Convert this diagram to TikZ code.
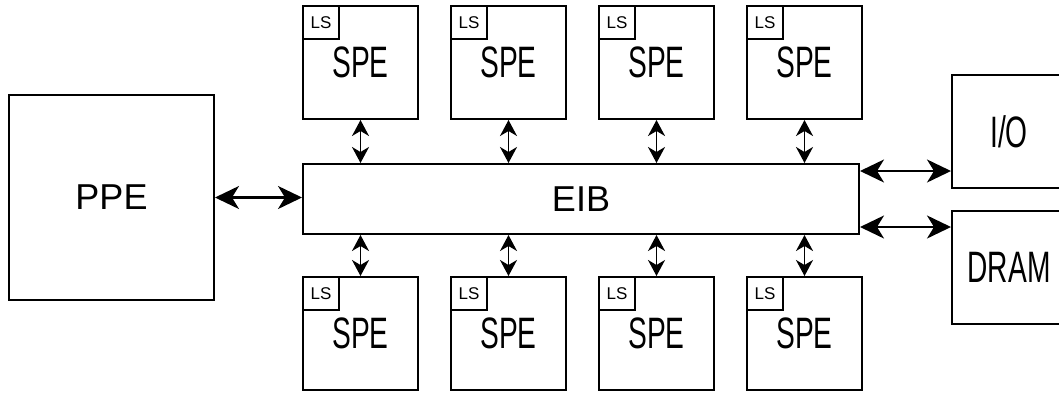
\documentclass[tikz,border=0pt]{standalone}
\usepackage{fontspec}
\setmainfont{Liberation Sans}
\usetikzlibrary{arrows.meta, positioning, calc}

\tikzset{
    blk/.style={draw, line width=2pt, inner sep=0pt, fill=white},
    narrow/.style={font=\fontsize{44}{46}\selectfont},
    link/.style={line width=1.8pt, {Stealth[length=16pt,width=17pt,inset=5pt]}-{Stealth[length=16pt,width=17pt,inset=5pt]}},
    biglink/.style={line width=2.2pt, {Stealth[length=24pt,width=23pt,inset=7pt]}-{Stealth[length=24pt,width=23pt,inset=7pt]}}
}

\begin{document}
\begin{tikzpicture}[x=1pt, y=-1pt]
\useasboundingbox (0,0) rectangle (1059,392);

% PPE and EIB bus
\node[blk, minimum width=205pt, minimum height=205pt, font=\fontsize{36}{38}\selectfont] (ppe) at (111.5,197.5) {PPE};
\node[blk, minimum width=556pt, minimum height=70pt, font=\fontsize{36}{38}\selectfont] (eib) at (581,199) {EIB};

% SPEs above and below the bus
\foreach \i in {0,...,3} {
    \node[blk, minimum width=115pt, minimum height=113pt, narrow] (t\i) at (360.5+148*\i,62.5) {\scalebox{0.64}[1]{SPE}};
    \node[blk, minimum width=36pt, minimum height=33pt, anchor=north west, font=\fontsize{17}{18}\selectfont] (tls\i) at (t\i.north west) {LS};
    \node[blk, minimum width=115pt, minimum height=113pt, narrow] (b\i) at (360.5+148*\i,333.5) {\scalebox{0.64}[1]{SPE}};
    \node[blk, minimum width=36pt, minimum height=33pt, anchor=north west, font=\fontsize{17}{18}\selectfont] (bls\i) at (b\i.north west) {LS};
    \draw[link] (t\i.south) -- (t\i.south |- eib.north);
    \draw[link] (b\i.north) -- (b\i.north |- eib.south);
}

% I/O and DRAM
\node[blk, minimum width=114pt, minimum height=113pt, narrow] (io) at (1009,131.5) {\scalebox{0.64}[1]{I/O}};
\node[blk, minimum width=114pt, minimum height=113pt, narrow] (dram) at (1009,267.5) {\scalebox{0.64}[1]{DRAM}};

\draw[biglink] (ppe.east) -- (ppe.east -| eib.west);
\draw[biglink] ([yshift=-8pt]eib.north east) -- ([yshift=-8pt]eib.north east -| io.west);
\draw[biglink] ([yshift=8pt]eib.south east) -- ([yshift=8pt]eib.south east -| dram.west);
\end{tikzpicture}
\end{document}
